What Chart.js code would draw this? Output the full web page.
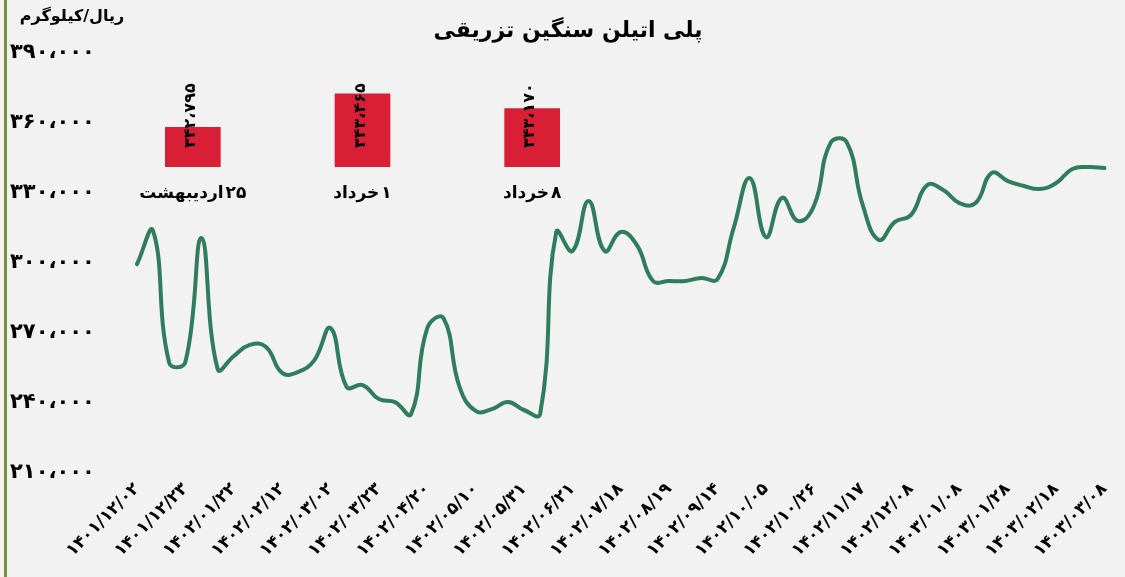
<!DOCTYPE html>
<html lang="fa">
<head>
<meta charset="utf-8">
<title>پلی اتیلن سنگین تزریقی</title>
<script src="https://cdn.jsdelivr.net/npm/chart.js@4.4.1/dist/chart.umd.min.js"></script>
<style>
  html, body { margin: 0; padding: 0; background: #f2f2f2; }
  #wrap { position: relative; width: 1125px; height: 577px; overflow: hidden; }
  #chart { position: absolute; left: 0; top: 0; }
  #inset { position: absolute; left: 108px; top: 67px; }
</style>
</head>
<body>
<div id="wrap">
  <canvas id="chart" width="1125" height="577"></canvas>
  <canvas id="inset" width="509" height="140"></canvas>
</div>
<script>
const chartTitle = 'پلی اتیلن سنگین تزریقی';
const unitLabel = 'ریال/کیلوگرم';

// one tick label every 3 points
const dateLabels = [
    '۱۴۰۱/۱۲/۰۲', '۱۴۰۱/۱۲/۲۳', '۱۴۰۲/۰۱/۲۲', '۱۴۰۲/۰۲/۱۲', '۱۴۰۲/۰۳/۰۲',
    '۱۴۰۲/۰۳/۲۳', '۱۴۰۲/۰۴/۲۰', '۱۴۰۲/۰۵/۱۰', '۱۴۰۲/۰۵/۳۱', '۱۴۰۲/۰۶/۲۱',
    '۱۴۰۲/۰۷/۱۸', '۱۴۰۲/۰۸/۱۹', '۱۴۰۲/۰۹/۱۴', '۱۴۰۲/۱۰/۰۵', '۱۴۰۲/۱۰/۲۶',
    '۱۴۰۲/۱۱/۱۷', '۱۴۰۲/۱۲/۰۸', '۱۴۰۳/۰۱/۰۸', '۱۴۰۳/۰۱/۲۸', '۱۴۰۳/۰۲/۱۸',
    '۱۴۰۳/۰۳/۰۸',
];

// ریال/کیلوگرم
const prices = [
    299500, 313700, 257100, 257600, 310700, 254600, 260100, 264900, 264000, 252900,
    253300, 258400, 272100, 246900, 247700, 241700, 240400, 235300, 272100, 276400,
    246900, 236600, 237400, 240400, 237000, 235300, 313300, 305100, 326600, 305100,
    313300, 307700, 292300, 292300, 292300, 293600, 293100, 315000, 336400, 311100,
    327900, 318000, 324900, 351400, 351900, 324900, 309900, 317600, 320600, 333400,
    331300, 325700, 325700, 338600, 335100, 333000, 331700, 334300, 340300, 341100,
    340700,
];

const yMin = 210000;
const yMax = 390000;
const yStep = 30000;

// inset: day + month name (read right to left: day first)
const insetDays = ['۲۵', '۱', '۸'];
const insetMonths = ['اردیبهشت', 'خرداد', 'خرداد'];
const insetValues = [342795, 343465, 343170];
const insetMin = 342000;
const insetMax = 344000;

const lineColor = '#2f7d5d';
const barColor = '#d91f35';
const fontFamily = '"DejaVu Sans", sans-serif';

const faDigits = (s) => String(s).replace(/\d/g, (d) => '۰۱۲۳۴۵۶۷۸۹'[d]);
function faNumber(v) {
    return faDigits(Math.round(v).toString().replace(/\B(?=(\d{3})+(?!\d))/g, '،'));
}

const categories = prices.map((p, i) => (i % 3 === 0 ? dateLabels[i / 3] : ''));

const framePlugin = {
    id: 'frame',
    beforeDraw(chart) {
        const c = chart.ctx;
        c.save();
        c.fillStyle = '#f2f2f2';
        c.fillRect(0, 0, chart.width, chart.height);
        c.fillStyle = '#77933c';
        c.fillRect(4, 0, 3, chart.height);
        c.restore();
    },
    afterDraw(chart) {
        const c = chart.ctx;
        c.save();
        c.fillStyle = '#000';
        c.textAlign = 'center';
        c.textBaseline = 'middle';
        c.font = 'bold 22px ' + fontFamily;
        c.fillText(chartTitle, 568, 31);
        c.font = 'bold 16px ' + fontFamily;
        c.fillText(unitLabel, 72, 17);
        c.restore();
    },
};

new Chart(document.getElementById('chart'), {
    type: 'line',
    data: {
        labels: categories,
        datasets: [
            {
                data: prices,
                borderColor: lineColor,
                borderWidth: 4,
                tension: 0.45,
                pointRadius: 0,
                fill: false,
                borderCapStyle: 'round',
                borderJoinStyle: 'round',
            },
        ],
    },
    options: {
        responsive: false,
        animation: false,
        devicePixelRatio: 1,
        layout: { padding: { left: 10, right: 20, top: 53, bottom: 0 } },
        plugins: { legend: { display: false }, tooltip: { enabled: false } },
        scales: {
            x: {
                grid: { display: false, drawTicks: false },
                border: { display: false },
                ticks: {
                    autoSkip: false,
                    maxRotation: 45,
                    minRotation: 45,
                    padding: 6,
                    color: '#000',
                    font: { family: fontFamily, size: 17, weight: 'bold' },
                },
                afterFit: (s) => { s.height = 104; },
            },
            y: {
                min: yMin,
                max: yMax,
                grid: { display: false, drawTicks: false },
                border: { display: false },
                ticks: {
                    stepSize: yStep,
                    crossAlign: 'far',
                    padding: 0,
                    color: '#000',
                    font: { family: fontFamily, size: 21, weight: 'bold' },
                    callback: (v) => faNumber(v),
                },
                afterFit: (s) => { s.width = 127; },
            },
        },
    },
    plugins: [framePlugin],
});

const barTextPlugin = {
    id: 'barText',
    afterDraw(chart) {
        const c = chart.ctx;
        const xs = chart.scales.x;
        const base = chart.scales.y.getPixelForValue(insetMin);
        c.save();
        c.fillStyle = '#000';
        c.textBaseline = 'middle';
        c.textAlign = 'left';
        insetValues.forEach((v, i) => {
            const cx = xs.getPixelForValue(i);
            // value, rotated, reading upwards from near the base
            c.save();
            c.font = 'bold 16px ' + fontFamily;
            c.translate(cx - 2, base - 19);
            c.rotate(-Math.PI / 2);
            c.fillText(faNumber(v), 0, 0);
            c.restore();
            // category label under the bar: month on the left, day on the right
            c.font = 'bold 17px ' + fontFamily;
            const wDay = c.measureText(insetDays[i]).width;
            const wMonth = c.measureText(insetMonths[i]).width;
            const gap = 2;
            const left = cx - (wDay + gap + wMonth) / 2;
            c.fillText(insetMonths[i], left, base + 27);
            c.fillText(insetDays[i], left + wMonth + gap, base + 27);
        });
        c.restore();
    },
};

new Chart(document.getElementById('inset'), {
    type: 'bar',
    data: {
        labels: insetMonths,
        datasets: [{ data: insetValues, backgroundColor: barColor, barThickness: 55 }],
    },
    options: {
        responsive: false,
        animation: false,
        devicePixelRatio: 1,
        layout: { padding: 0 },
        plugins: { legend: { display: false }, tooltip: { enabled: false } },
        scales: {
            x: {
                grid: { display: false, drawTicks: false },
                border: { display: false },
                ticks: { display: false },
                afterFit: (s) => { s.height = 40; },
            },
            y: { display: false, min: insetMin, max: insetMax },
        },
    },
    plugins: [barTextPlugin],
});
</script>
</body>
</html>
